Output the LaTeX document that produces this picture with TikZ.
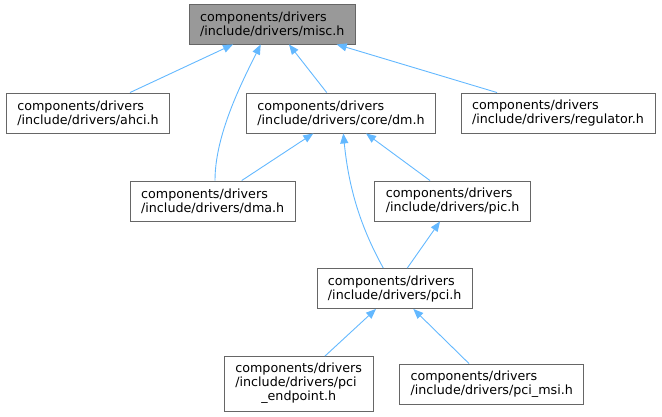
\documentclass[tikz,border=0pt]{standalone}
\usepackage{fontspec}
\setmainfont{DejaVu Sans}
\usetikzlibrary{shapes.geometric,arrows.meta,calc,positioning}
\definecolor{edgeblue}{HTML}{63B8FF}
\definecolor{boxgray}{HTML}{666666}
\definecolor{curfill}{HTML}{999999}
\tikzstyle{file} = [rectangle, minimum height=40pt, inner xsep=11pt, inner ysep=4pt, align=left, draw=boxgray, line width=0.9pt, fill=white, font=\fontsize{12.7pt}{14pt}\selectfont]
\tikzstyle{current} = [file, fill=curfill]
\tikzstyle{edge} = [->, >={Triangle[length=10pt,width=8pt]}, draw=edgeblue, line width=0.9pt]

\begin{document}
\begin{tikzpicture}[x=1pt, y=1pt, node distance=89pt]
\useasboundingbox (0,0) rectangle (662,-417);

\node (misc) [current] at (272.3,-24) {components/drivers\\/include/drivers/misc.h};
\node (ahci) [file, below of=misc, xshift=-184.3pt] {components/drivers\\/include/drivers/ahci.h};
\node (dm) [file, below of=misc, xshift=68.7pt] {components/drivers\\/include/drivers/core/dm.h};
\node (regulator) [file, below of=misc, xshift=285.7pt] {components/drivers\\/include/drivers/regulator.h};
%
\node (dma) [file, below of=dm, xshift=-128.3pt, yshift=1pt] {components/drivers\\/include/drivers/dma.h};
\node (pic) [file, below of=dm, xshift=111.6pt, yshift=1pt] {components/drivers\\/include/drivers/pic.h};
\node (pci) [file, below of=pic, xshift=-57.9pt, yshift=1.5pt] {components/drivers\\/include/drivers/pci.h};
%
\node (endpoint) [file, below of=pci, xshift=-96pt, yshift=-6.5pt, minimum height=55pt] {\begin{tabular}{@{}l@{}}components/drivers\\/include/drivers/pci\\\multicolumn{1}{@{}c@{}}{\_endpoint.h}\end{tabular}};
\node (msi) [file, below of=pci, xshift=97pt, yshift=-6.5pt] {components/drivers\\/include/drivers/pci\_msi.h};

\draw [edge] ([xshift=42pt]ahci.north) -- ([xshift=-39.3pt]misc.south);
\draw [edge] ([xshift=2.3pt]dma.north) .. controls +(0,45) and +(-20,-40) .. ([xshift=-11.6pt]misc.south);
\draw [edge] ([xshift=-14.3pt]dm.north) -- ([xshift=16.7pt]misc.south);
\draw [edge] ([xshift=-61pt]regulator.north) -- ([xshift=64.4pt]misc.south);
%
\draw [edge] ([xshift=29pt]dma.north) -- ([xshift=-27.7pt]dm.south);
\draw [edge] ([xshift=-11.4pt]pci.north) .. controls +(-25,45) and +(5,-50) .. ([xshift=2.3pt]dm.south);
\draw [edge] ([xshift=-22.6pt]pic.north) -- ([xshift=25pt]dm.south);
\draw [edge] ([xshift=12.6pt]pci.north) -- ([xshift=-12.6pt]pic.south);
%
\draw [edge] ([xshift=26.3pt]endpoint.north) -- ([xshift=-18.7pt]pci.south);
\draw [edge] ([xshift=-22.7pt]msi.north) -- ([xshift=18.6pt]pci.south);

\end{tikzpicture}
\end{document}
